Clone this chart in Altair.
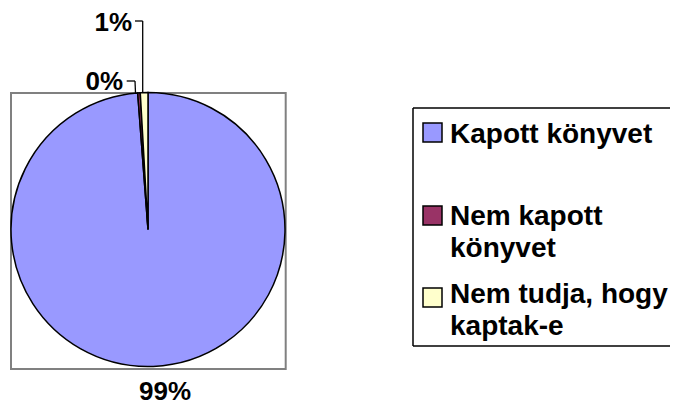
import altair as alt
import pandas as pd

# ---- data ----
categories = ["Kapott könyvet", "Nem kapott könyvet", "Nem tudja, hogy kaptak-e"]
legend_labels = ["Kapott könyvet", "Nem kapott\nkönyvet", "Nem tudja, hogy\nkaptak-e"]
shares = [98.8, 0.3, 0.9]
colors = ["#9999FF", "#993366", "#FFFFCC"]

df = pd.DataFrame({"cat": categories, "label": legend_labels,
                   "value": shares, "idx": list(range(len(categories)))})

FONT = "Liberation Sans"
CX, CY, R = 140, 221.5, 137
blank = alt.Data(values=[{}])

color = alt.Color("cat:N", scale=alt.Scale(domain=categories, range=colors), legend=None)

layers = []

# grey plot-area frame
layers.append(alt.Chart(blank).mark_rect(fill="transparent", stroke="#808080", strokeWidth=2).encode(
    x=alt.value(3), x2=alt.value(277.7), y=alt.value(85), y2=alt.value(361)))

# pie
layers.append(alt.Chart(df).mark_arc(outerRadius=R, stroke="black", strokeWidth=1.5).encode(
    theta=alt.Theta("value:Q", stack=True),
    color=color,
    order=alt.Order("idx:Q"),
    x=alt.value(CX), y=alt.value(CY)))

# leader lines
segments = [
    (127, 134.7, 13, 13), (134.7, 134.7, 13, 85),
    (118.7, 127, 73, 73), (127, 127.5, 73, 85),
]
for x1, x2, y1, y2 in segments:
    layers.append(alt.Chart(blank).mark_rule(color="black", strokeWidth=1.3).encode(
        x=alt.value(x1), x2=alt.value(x2), y=alt.value(y1), y2=alt.value(y2)))

# percentage labels
label_pos = [(157, 392, "center"), (115, 82, "right"), (124, 23, "right")]
for cat, (lx, ly, al) in zip(categories, label_pos):
    layers.append(alt.Chart(df).transform_joinaggregate(total="sum(value)").transform_calculate(
        pct="round(datum.value / datum.total * 100) + '%'"
    ).transform_filter(alt.datum.cat == cat).mark_text(
        font=FONT, fontSize=26, fontWeight="bold", align=al, baseline="alphabetic", color="black"
    ).encode(text="pct:N", x=alt.value(lx), y=alt.value(ly)))

# legend box (right side runs off the page, as in the reference)
box = [(405, 662, 100, 100), (405, 662, 338, 338), (405, 405, 100, 338)]
for x1, x2, y1, y2 in box:
    layers.append(alt.Chart(blank).mark_rule(color="black", strokeWidth=1.5).encode(
        x=alt.value(x1), x2=alt.value(x2), y=alt.value(y1), y2=alt.value(y2)))

# legend entries
sw_y = [115, 198, 280]
txt_y = [135, 217, 295]
for cat, sy, ty in zip(categories, sw_y, txt_y):
    sub = alt.Chart(df).transform_filter(alt.datum.cat == cat)
    layers.append(sub.mark_rect(stroke="black", strokeWidth=1.5).encode(
        color=color, x=alt.value(415), x2=alt.value(434), y=alt.value(sy), y2=alt.value(sy + 19)))
    layers.append(sub.mark_text(font=FONT, fontSize=28, fontWeight="bold", align="left",
                                baseline="alphabetic", lineBreak="\n", lineHeight=32, color="black").encode(
        text="label:N", x=alt.value(442), y=alt.value(ty)))

chart = alt.layer(*layers).properties(
    width=662, height=398, padding=0, autosize="none"
).configure_view(strokeWidth=0)

chart.save("out.html", embed_options={"renderer": "svg", "actions": False})
